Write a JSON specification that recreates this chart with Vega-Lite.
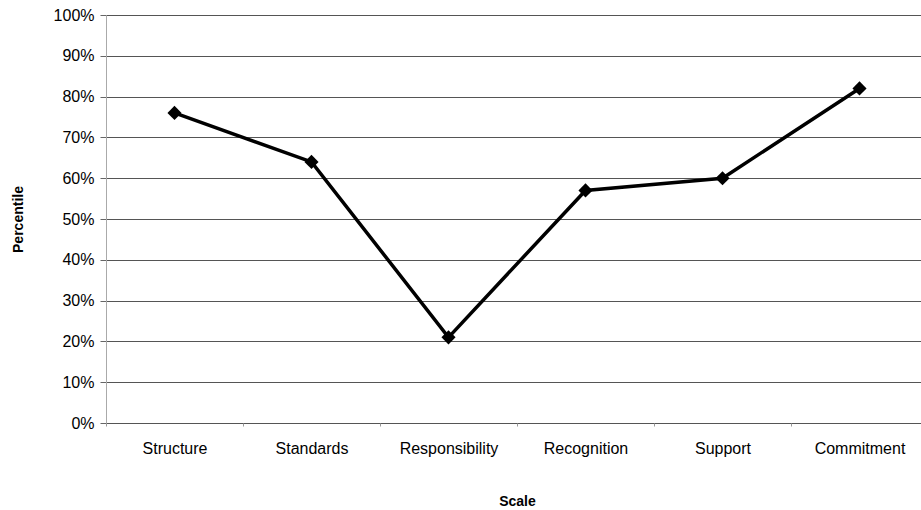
{
  "$schema": "https://vega.github.io/schema/vega-lite/v6.json",
  "autosize": "none",
  "padding": {"left": 106, "top": 15, "right": 0, "bottom": 87},
  "width": 822,
  "height": 408,
  "background": "white",
  "config": {
    "font": "Liberation Sans",
    "view": {"stroke": null},
    "axis": {"labelFont": "Liberation Sans", "titleFont": "Liberation Sans", "labelColor": "black", "titleColor": "black"}
  },
  "data": {
    "values": [
      {"scale": "Structure", "pct": 0.76},
      {"scale": "Standards", "pct": 0.64},
      {"scale": "Responsibility", "pct": 0.21},
      {"scale": "Recognition", "pct": 0.57},
      {"scale": "Support", "pct": 0.60},
      {"scale": "Commitment", "pct": 0.82}
    ]
  },
  "encoding": {
    "x": {
      "field": "scale",
      "type": "nominal",
      "sort": null,
      "scale": {"type": "band", "paddingInner": 0, "paddingOuter": 0},
      "axis": {
        "title": "Scale",
        "titleFontSize": 14,
        "titleFontWeight": "bold",
        "titlePadding": 38,
        "labelAngle": 0,
        "labelFontSize": 16,
        "labelPadding": 14,
        "bandPosition": 0,
        "tickBand": "extent",
        "tickSize": 3,
        "tickColor": "#999",
        "domain": false,
        "grid": false
      }
    },
    "y": {
      "field": "pct",
      "type": "quantitative",
      "scale": {"domain": [0, 1], "nice": false},
      "axis": {
        "title": "Percentile",
        "titleFontSize": 14,
        "titleFontWeight": "bold",
        "titlePadding": 28,
        "format": ".0%",
        "values": [0, 0.1, 0.2, 0.3, 0.4, 0.5, 0.6, 0.7, 0.8, 0.9, 1],
        "labelFontSize": 16,
        "labelPadding": 6,
        "tickSize": 6,
        "tickColor": "#666",
        "grid": true,
        "gridColor": "#555",
        "gridOpacity": 1,
        "gridWidth": 1,
        "domain": true,
        "domainColor": "#aaa"
      }
    }
  },
  "layer": [
    {"mark": {"type": "line", "color": "black", "strokeWidth": 3.5}},
    {"mark": {"type": "point", "shape": "diamond", "filled": true, "color": "black", "size": 200, "opacity": 1}}
  ]
}
